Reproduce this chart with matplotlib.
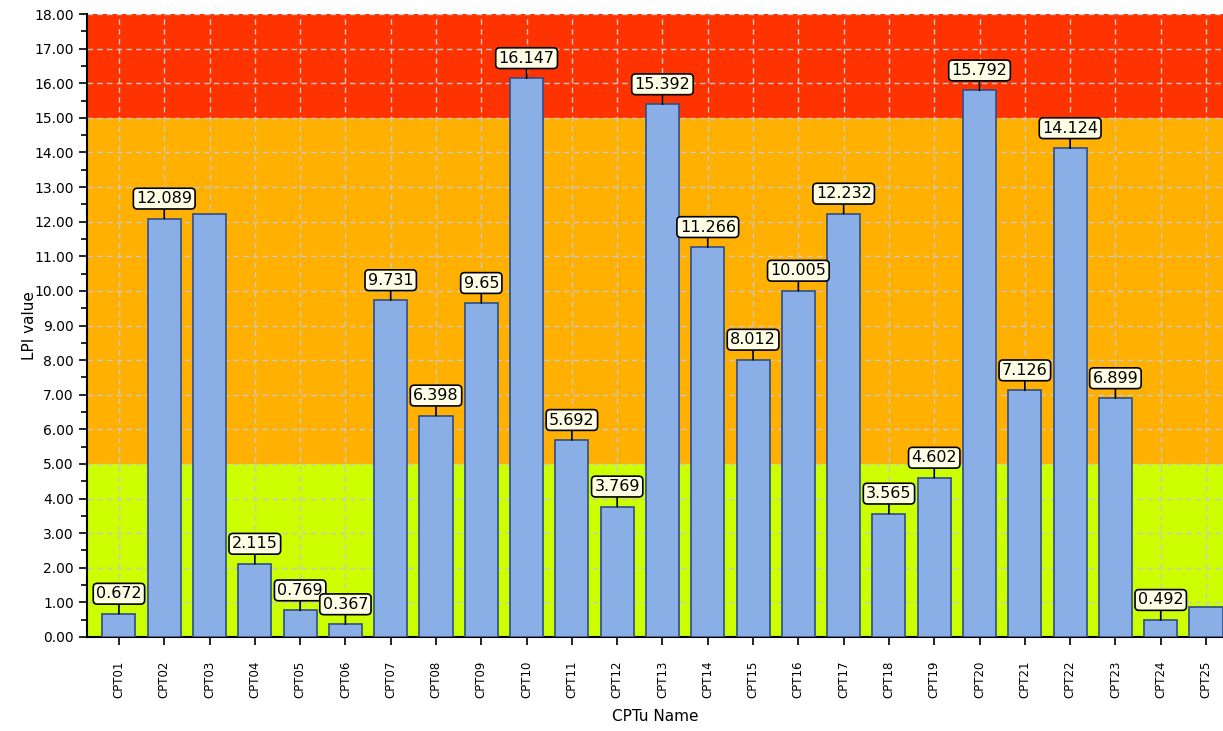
import matplotlib.pyplot as plt
from matplotlib.ticker import MultipleLocator, FormatStrFormatter

# LPI results per CPTu sounding
names = ["CPT%02d" % i for i in range(1, 26)]
lpi = [0.672, 12.089, 12.22, 2.115, 0.769, 0.367, 9.731, 6.398, 9.65, 16.147,
       5.692, 3.769, 15.392, 11.266, 8.012, 10.005, 12.232, 3.565, 4.602, 15.792,
       7.126, 14.124, 6.899, 0.492, 0.87]
# soundings without a value box
no_label = ["CPT03", "CPT25"]

# risk zones (lower, upper, colour)
zones = [(0, 5, "#CCFF00"), (5, 15, "#FFB000"), (15, 18, "#FF3300")]

fig = plt.figure(figsize=(12.23, 7.31), dpi=100)
ax = fig.add_axes([0.0711, 0.1286, 0.9289, 0.8522])

for lo, hi, c in zones:
    ax.axhspan(lo, hi, color=c, zorder=0, lw=0)

x = list(range(len(names)))
ax.bar(x, lpi, width=0.73, color="#8AAEE6", edgecolor="#2E4E8A", linewidth=1.2, zorder=3)

for i, (n, v) in enumerate(zip(names, lpi)):
    if n in no_label:
        continue
    ax.annotate(str(v), xy=(i, v), xytext=(0, 9), textcoords="offset points",
                ha="center", va="bottom", fontsize=11.5, zorder=5,
                bbox=dict(boxstyle="round,pad=0.18,rounding_size=0.25",
                          fc="#FFFFE6", ec="black", lw=1.2),
                arrowprops=dict(arrowstyle="-", color="black", lw=1.2,
                                shrinkA=0, shrinkB=0))

ax.set_xlim(-0.706, 24.375)
ax.set_ylim(0, 18)
ax.set_xticks(x)
ax.set_xticklabels(names, rotation=90, fontsize=8.5)
ax.yaxis.set_major_locator(MultipleLocator(1))
ax.yaxis.set_minor_locator(MultipleLocator(0.5))
ax.yaxis.set_major_formatter(FormatStrFormatter("%.2f"))
ax.tick_params(axis="y", labelsize=10, length=6, width=1.2, direction="out")
ax.tick_params(axis="y", which="minor", length=4, width=1.2)
ax.tick_params(axis="x", length=6, width=1.2, pad=11)

ax.grid(True, color="#C8C8C8", linestyle=(0, (4, 3)), linewidth=1, zorder=1)
ax.set_axisbelow(True)
for s in ["top", "right"]:
    ax.spines[s].set_visible(False)
for s in ["left", "bottom"]:
    ax.spines[s].set_linewidth(1.5)

ax.set_ylabel("LPI value", fontsize=11, labelpad=-2)
ax.set_xlabel("CPTu Name", fontsize=11, labelpad=8)

fig.savefig("out.png", dpi=100)
